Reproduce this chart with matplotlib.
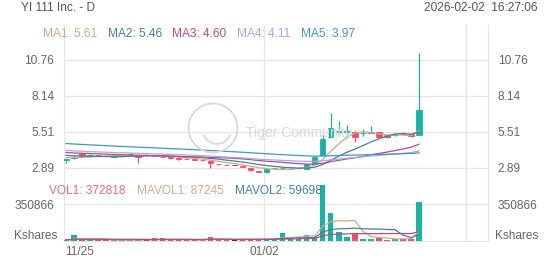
import matplotlib.pyplot as plt
from matplotlib.patches import Circle, Arc
import numpy as np
import pandas as pd

plt.rcParams['font.family'] = ['Liberation Sans', 'DejaVu Sans']

title = 'YI 111 Inc. - D'
stamp = '2026-02-02  16:27:06'

# daily candles, 11/25 .. 02/02
opens = [3.48, 3.60, 3.99, 3.76, 3.83, 3.75, 3.66, 3.74, 3.88, 3.82,
         3.84, 3.75, 3.70, 3.65, 3.58, 3.54, 3.50, 3.45, 3.40, 3.15,
         3.12, 3.09, 3.05, 2.88, 2.62, 2.55, 2.84, 2.84, 2.82, 2.85,
         2.82, 3.16, 3.82, 5.15, 5.52, 5.50, 5.52, 5.40, 5.45, 5.47,
         5.28, 5.28, 5.45, 5.32, 5.30]
highs = [3.55, 3.80, 4.00, 3.86, 3.88, 3.78, 3.76, 3.77, 3.95, 3.85,
         3.88, 3.78, 3.73, 3.67, 3.64, 3.57, 3.53, 3.48, 3.42, 3.18,
         3.15, 3.12, 3.08, 2.90, 2.66, 2.82, 2.88, 2.90, 2.87, 2.89,
         3.18, 3.75, 5.35, 6.90, 6.32, 6.00, 5.60, 5.70, 5.93, 5.50,
         5.32, 5.40, 5.50, 5.35, 11.26]
lows = [3.25, 3.55, 3.75, 3.72, 3.78, 3.71, 3.64, 3.70, 3.85, 3.25,
        3.80, 3.71, 3.66, 3.55, 3.48, 3.50, 3.46, 3.40, 2.85, 3.10,
        3.07, 3.06, 2.94, 2.66, 2.57, 2.52, 2.80, 2.80, 2.79, 2.81,
        2.80, 3.14, 3.80, 5.10, 5.23, 5.15, 4.79, 5.20, 5.40, 5.10,
        5.08, 5.22, 5.30, 5.12, 5.25]
closes = [3.50, 3.67, 3.77, 3.80, 3.81, 3.74, 3.73, 3.73, 3.89, 3.65,
          3.84, 3.74, 3.68, 3.57, 3.56, 3.52, 3.49, 3.43, 3.21, 3.13,
          3.10, 3.09, 2.97, 2.70, 2.60, 2.78, 2.85, 2.86, 2.83, 2.86,
          3.14, 3.70, 4.96, 5.77, 5.58, 5.60, 5.15, 5.45, 5.48, 5.15,
          5.11, 5.30, 5.35, 5.20, 7.10]
volumes = [9000, 55000, 10000, 8000, 9000, 7000, 8000, 6000, 9000, 12000,
           6000, 22000, 22000, 8000, 9000, 7000, 7000, 6000, 40000, 9000,
           7000, 6000, 20000, 18000, 12000, 15000, 15000, 77000, 39000, 33000,
           52000, 33000, 537000, 264000, 81000, 33000, 62000, 16000, 15000, 29000,
           10000, 16000, 19000, 19000, 372818]

# sessions before the visible window (feed the moving averages)
prior_closes = [5.70, 5.62, 5.66, 5.55, 5.48, 5.52, 5.40, 5.35, 5.42, 5.30,
                5.28, 5.20, 5.25, 5.15, 5.10, 5.18, 5.05, 5.00, 5.08, 4.98,
                4.95, 4.90, 4.98, 4.85, 4.88, 4.80, 4.82, 4.75, 4.78, 4.70,
                4.68, 4.60, 4.55, 4.52, 4.45, 4.40, 4.38, 4.32, 4.35, 4.28,
                4.30, 4.25, 4.28, 4.20, 4.22, 4.18, 4.20, 4.15, 4.18, 4.12,
                4.05, 3.98, 3.95, 3.90, 3.85, 3.78, 3.70, 3.65, 3.62]
prior_volumes = [12000, 9000, 15000, 8000, 11000, 10000, 7000, 9000, 13000, 8000,
                 10000, 9000, 7000, 12000, 8000, 9000, 11000, 7000, 8000]

ma_periods = [5, 10, 20, 30, 60]
ma_values = ['5.61', '5.46', '4.60', '4.11', '3.97']
ma_colors = ['#cfa98c', '#4a7f9f', '#b64d87', '#a7a9e8', '#4596c9']
mavol_periods = [5, 10, 20]
mavol_colors = ['#cfa98c', '#4a7f9f', '#b64d87']
vol_values = ['372818', '87245', '59698']

price_ticks = [2.89, 5.51, 8.14, 10.76]
price_labels = ['2.89', '5.51', '8.14', '10.76']
vol_tick = 350866
grid_pos = [24.7, 49.9]
date_labels = ['11/25', '01/02']

UP = '#19b3a3'
DOWN = '#ee4d6d'
FLAT = '#333333'
GRID = '#e6e6e6'
TXT = '#666666'
FS = 8.6

W, H = 552, 265
fig = plt.figure(figsize=(W / 100, H / 100), dpi=100)


def box(x0, y0, x1, y1):
    return [x0 / W, 1 - y1 / H, (x1 - x0) / W, (y1 - y0) / H]


ax = fig.add_axes(box(64, 25, 488, 178))
axv = fig.add_axes(box(64, 178, 488, 240.7))

n = len(closes)
x = np.arange(n)
o = np.array(opens)
c = np.array(closes)
cols = [UP if cc > oo else DOWN if cc < oo else FLAT for oo, cc in zip(o, c)]

# candles
ax.vlines(x, lows, highs, colors=cols, linewidth=0.9, zorder=3)
ax.bar(x, np.maximum(np.abs(c - o), 0.01), bottom=np.minimum(o, c), width=0.68,
       color=cols, edgecolor=cols, linewidth=0.6, zorder=4)

allc = pd.Series(prior_closes + closes)
for p, col in zip(ma_periods, ma_colors):
    ma = allc.rolling(p).mean().iloc[len(prior_closes):].values
    ax.plot(x, ma, color=col, linewidth=0.9, zorder=5)

# volume
axv.bar(x, volumes, width=0.68, color=cols, zorder=3)
allv = pd.Series(prior_volumes + volumes)
for p, col in zip(mavol_periods, mavol_colors):
    mv = allv.rolling(p).mean().iloc[len(prior_volumes):].values
    axv.plot(x, mv, color=col, linewidth=0.9, zorder=4)

for a in (ax, axv):
    a.set_xlim(-0.25, 52.6)
    a.set_xticks([])
    for g in grid_pos:
        a.axvline(g, color=GRID, linewidth=1, zorder=0)
    for s in ('top', 'bottom'):
        a.spines[s].set_visible(False)
    for s in ('left', 'right'):
        a.spines[s].set_color(GRID)
    a.tick_params(axis='y', length=0, pad=7, labelsize=FS, colors=TXT,
                  labelleft=True, labelright=True)
    a.set_facecolor('none')

ax.set_ylim(2.14, 13.31)
ax.set_yticks(price_ticks, price_labels)
for t in price_ticks:
    ax.axhline(t, color=GRID, linewidth=1, zorder=0)

axv.set_ylim(0, 604000)
axv.set_yticks([vol_tick], [str(vol_tick)])
axv.axhline(vol_tick, color=GRID, linewidth=1, zorder=0)
axv.spines['bottom'].set_visible(True)
axv.spines['bottom'].set_color(GRID)
for side, xx, ha in (('l', 57, 'right'), ('r', 495, 'left')):
    fig.text(xx / W, 1 - 236 / H, 'Kshares', ha=ha, va='center', fontsize=FS, color=TXT)

# date labels
trans = axv.get_xaxis_transform()
axv.annotate(date_labels[0], xy=(-0.25, 0), xycoords=trans, xytext=(0.5, -8.2),
             textcoords='offset points', ha='left', va='center', fontsize=FS, color=TXT)
axv.annotate(date_labels[1], xy=(grid_pos[0], 0), xycoords=trans, xytext=(0, -8.2),
             textcoords='offset points', ha='center', va='center', fontsize=FS, color=TXT)

# header
fig.text(21 / W, 1 - 8 / H, title, ha='left', va='center', fontsize=FS, color='#555555')
fig.text(537 / W, 1 - 8 / H, stamp, ha='right', va='center', fontsize=FS, color='#555555')

ma_x = [43, 108, 172, 237, 301]
for i, (xx, v, col) in enumerate(zip(ma_x, ma_values, ma_colors)):
    fig.text(xx / W, 1 - 34 / H, f'MA{i + 1}: {v}', ha='left', va='center',
             fontsize=FS, color=col)

vol_names = ['VOL1', 'MAVOL1', 'MAVOL2']
vol_x = [49, 137, 235]
vol_cols = ['#ec6a80', '#cfae96', '#4a7f9f']
for name, xx, v, col in zip(vol_names, vol_x, vol_values, vol_cols):
    fig.text(xx / W, 1 - 191.5 / H, f'{name}: {v}', ha='left', va='center',
             fontsize=FS, color=col)

# watermark
wm = '#d9d9d9'
cx, cy = 2.13, (H - 128) / 100
fig.add_artist(Circle((cx, cy), 0.245, transform=fig.dpi_scale_trans, fill=False,
                      edgecolor=wm, linewidth=1.3, zorder=1))
fig.add_artist(Arc((cx + 0.04, cy - 0.02), 0.28, 0.28, theta1=200, theta2=340,
                   transform=fig.dpi_scale_trans, edgecolor=wm, linewidth=1.3, zorder=1))
fig.text(246 / W, 1 - 132.5 / H, 'Tiger Community', ha='left', va='center',
         fontsize=10, color=wm, zorder=1)

fig.savefig('out.png', dpi=100)
